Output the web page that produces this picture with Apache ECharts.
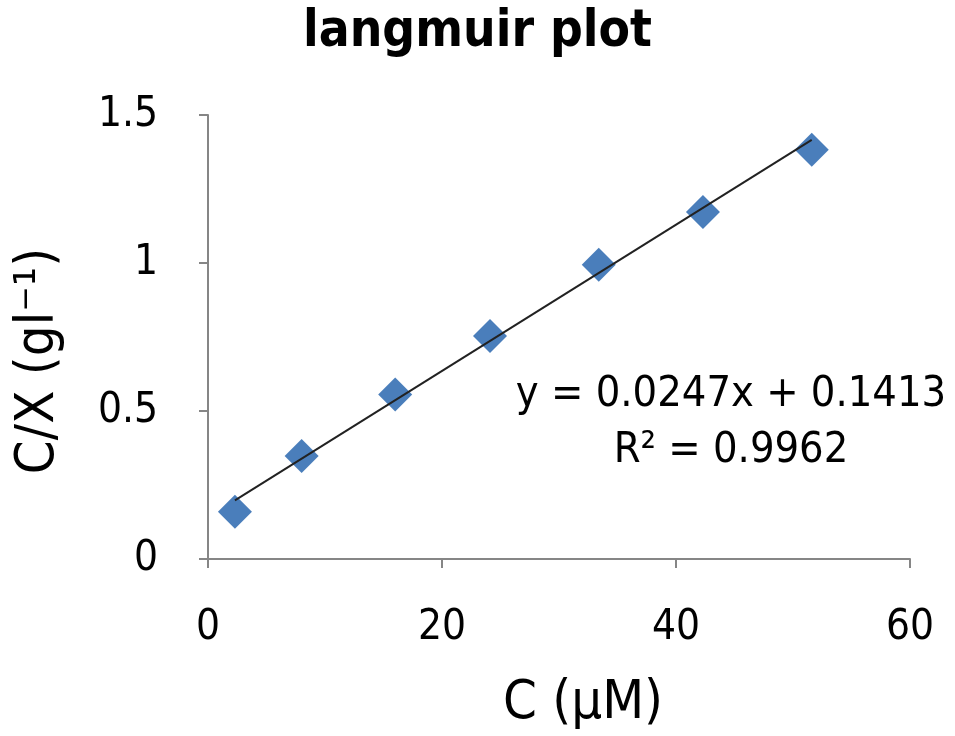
<!DOCTYPE html>
<html>
<head>
<meta charset="utf-8">
<script src="https://cdn.jsdelivr.net/npm/echarts@6/dist/echarts.min.js"></script>
<style>
  html, body { margin: 0; padding: 0; background: #fff; }
  #chart { width: 955px; height: 736px; }
</style>
</head>
<body>
<div id="chart"></div>
<script>
// measured points
const concX = [2.3, 8.0, 16.0, 24.1, 33.4, 42.3, 51.6];
const ratioY = [0.16, 0.348, 0.556, 0.753, 0.994, 1.172, 1.383];

// trendline ends as drawn
const trendX = [2.3, 51.6];
const trendY = [0.198, 1.416];

const xTicks = [0, 20, 40, 60];
const yTicks = [0, 0.5, 1, 1.5];

const eqText = "y = 0.0247x + 0.1413";
const r2Text = "R\u00b2 = 0.9962";

const font = '"DejaVu Sans Condensed", "Open Sans", sans-serif';

const chart = echarts.init(document.getElementById("chart"));
chart.setOption({
    backgroundColor: "#fff",
    animation: false,
    title: {
        text: "langmuir plot",
        left: "center",
        top: 2,
        textStyle: { fontFamily: font, fontSize: 51, fontWeight: "bold", color: "#000" }
    },
    grid: { left: 208, right: 45, top: 115, bottom: 173 },
    xAxis: {
        type: "value",
        min: xTicks[0],
        max: xTicks[xTicks.length - 1],
        interval: 20,
        name: "C (\u03bcM)",
        nameLocation: "middle",
        nameGap: 118,
        nameTextStyle: { fontFamily: font, fontSize: 54, color: "#000", padding: [0, 0, 0, 48] },
        axisLine: { lineStyle: { color: "#868686", width: 2 } },
        axisTick: { length: 9, lineStyle: { color: "#868686", width: 2 } },
        axisLabel: { fontFamily: font, fontSize: 42, color: "#000", margin: 48 },
        splitLine: { show: false }
    },
    yAxis: {
        type: "value",
        min: yTicks[0],
        max: yTicks[yTicks.length - 1],
        interval: 0.5,
        name: "C/X (gl\u207b\u00b9)",
        nameLocation: "middle",
        nameGap: 142,
        nameTextStyle: { fontFamily: font, fontSize: 54, color: "#000", padding: [0, 48, 0, 0] },
        axisLine: { show: true, lineStyle: { color: "#868686", width: 2 } },
        axisTick: { show: true, length: 9, lineStyle: { color: "#868686", width: 2 } },
        axisLabel: { fontFamily: font, fontSize: 42, color: "#000", margin: 50 },
        splitLine: { show: false }
    },
    graphic: [
        {
            type: "text",
            x: 731,
            y: 395,
            style: { text: eqText, font: "43px " + font, fill: "#000", align: "center", verticalAlign: "middle" }
        },
        {
            type: "text",
            x: 731,
            y: 451,
            style: { text: r2Text, font: "43px " + font, fill: "#000", align: "center", verticalAlign: "middle" }
        }
    ],
    series: [
        {
            type: "line",
            data: trendX.map((x, i) => [x, trendY[i]]),
            symbol: "none",
            lineStyle: { color: "#222", width: 2 },
            z: 3
        },
        {
            type: "scatter",
            data: concX.map((x, i) => [x, ratioY[i]]),
            symbol: "diamond",
            symbolSize: 34,
            itemStyle: { color: "#4a7ebb", opacity: 1 },
            z: 2
        }
    ]
});
</script>
</body>
</html>
